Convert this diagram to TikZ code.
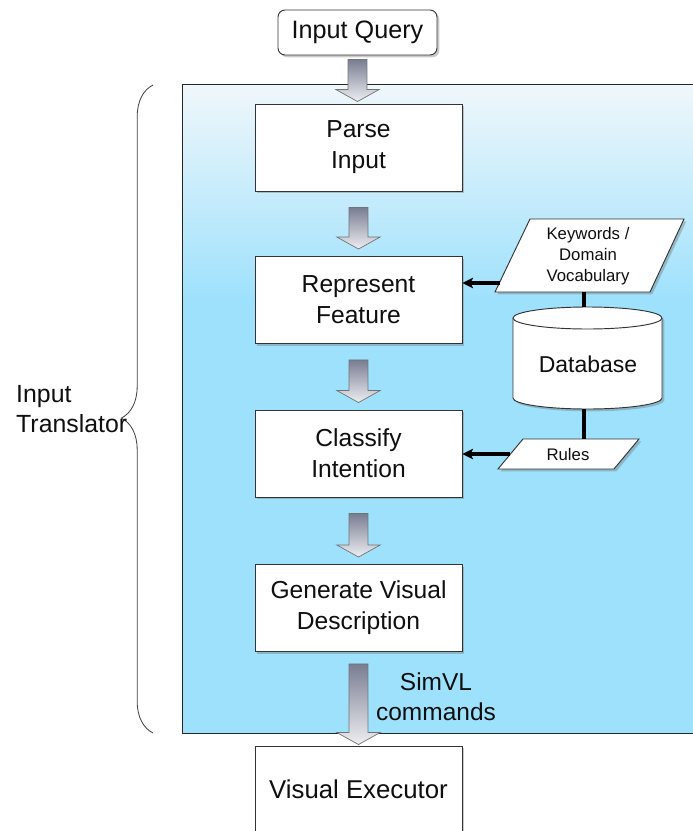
\documentclass[tikz,border=0pt]{standalone}
\usepackage{fontspec}
\setmainfont{Liberation Sans}
\usetikzlibrary{shadows,decorations.pathreplacing,calc,arrows.meta}
\definecolor{panelblue}{RGB}{158,225,252}
\definecolor{paneltop}{RGB}{240,247,251}
\definecolor{arrowtop}{RGB}{120,125,146}
\definecolor{arrowbot}{RGB}{238,238,242}
\definecolor{txt}{RGB}{15,15,15}
\newcommand{\boxfont}{\fontsize{21}{26.5}\selectfont}
\newcommand{\smallfont}{\fontsize{14.3}{17.9}\selectfont}
\newcommand{\blockarrow}[4]{%
  \path[barrow] let \p1=($(#1)+(0,#3)$), \p2=($(#2)+(0,-#4)$) in
   (\x1-8.1pt,\y1) -- (\x1-8.1pt,\y2+10.2pt) -- (\x1-18.4pt,\y2+10.2pt) -- (\x1,\y2)
   -- (\x1+18.4pt,\y2+10.2pt) -- (\x1+8.1pt,\y2+10.2pt) -- (\x1+8.1pt,\y1) -- cycle;}
\begin{document}
\begin{tikzpicture}[x=0.03cm,y=-0.03cm,
  shad/.style={drop shadow={shadow xshift=2pt,shadow yshift=-2pt,opacity=0.35,fill=black!60}},
  box/.style={draw=black!80,line width=0.8pt,fill=white,minimum width=6.21cm,minimum height=2.61cm,
    align=center,font=\boxfont,text=txt,inner sep=0pt,shad},
  qbox/.style={draw=black!80,line width=0.8pt,fill=white,rounded corners=6pt,minimum width=4.77cm,
    minimum height=1.35cm,font=\fontsize{21.5}{26}\selectfont,text=txt,inner sep=0pt,shad},
  shapebox/.style={draw=black!80,line width=0.8pt,fill=white,shad},
  barrow/.style={top color=arrowtop,bottom color=arrowbot,draw=black!55,line width=0.6pt},
  conn/.style={line width=2.7pt,black,-{Stealth[length=9pt,width=9pt,inset=2pt]}},
  link/.style={line width=2.7pt,black},
  lbl/.style={text=txt,inner sep=0pt}]
\useasboundingbox (0,0) rectangle (693,831);
\clip (0,0) rectangle (693,831);
% panel
\fill[top color=paneltop,bottom color=panelblue] (182,84) rectangle (700,300);
\fill[panelblue] (182,299) rectangle (700,733);
\draw[black!85,line width=0.7pt] (182,84) rectangle (700,733);
% brace
\draw[black!75,line width=0.7pt,decorate,decoration={brace,amplitude=27pt,aspect=0.486}] (153,733) -- (153,85);
\node[lbl,anchor=west,align=left,font=\fontsize{21.2}{25.6}\selectfont] (trans) at (16,409) {Input\\Translator};
% main boxes
\node[qbox] (query) at (357.5,32.5) {Input Query};
\node[box] (parse) at (358.5,147.5) {Parse\\Input};
\node[box] (represent) at (358.5,300) {Represent\\Feature};
\node[box] (classify) at (358.5,453.5) {Classify\\Intention};
\node[box] (generate) at (358.5,608) {Generate Visual\\Description};
\node[box,font=\fontsize{22}{26}\selectfont] (executor) at (358.5,789.5) {Visual Executor};
% block arrows
\blockarrow{query.south}{parse.north}{4}{2}
\blockarrow{parse.south}{represent.north}{16}{7}
\blockarrow{represent.south}{classify.north}{16}{7}
\blockarrow{classify.south}{generate.north}{16}{7}
\blockarrow{generate.south}{executor.north}{12}{1}
\node[lbl,align=center,font=\fontsize{20.9}{25.6}\selectfont] (simvl) at (436,697) {SimVL\\commands};
% keywords parallelogram
\path[shapebox] (530,219) -- (684,219) -- (650,292) -- (495,292) -- cycle;
\node[lbl,align=center,font=\smallfont] (kw) at (588,256) {Keywords /\\Domain\\Vocabulary};
% database cylinder
\path[shapebox] (513,318) -- (513,398) arc[start angle=180,end angle=0,x radius=74.5,y radius=11]
  -- (662,318) arc[start angle=0,end angle=-180,x radius=74.5,y radius=11] -- cycle;
\draw[black!80,line width=0.8pt] (513,318) arc[start angle=180,end angle=0,x radius=74.5,y radius=11];
\node[lbl,font=\fontsize{19.6}{24}\selectfont] (db) at (588,364) {Database};
% rules parallelogram
\path[shapebox] (523,439) -- (639,439) -- (614,469) -- (498,469) -- cycle;
\node[lbl,font=\smallfont] (rules) at (568,455) {Rules};
% connection points
\coordinate (kwL) at (500,283);
\coordinate (kwB) at (584,292);
\coordinate (dbT) at (584,307);
\coordinate (dbB) at (584,409);
\coordinate (ruT) at (584,439);
\coordinate (ruL) at (510,454);
\draw[conn] (kwL) -- (represent.east |- kwL);
\draw[conn] (ruL) -- (classify.east |- ruL);
\draw[link] (kwB) -- (dbT);
\draw[link] (dbB) -- (ruT);
\end{tikzpicture}
\end{document}
